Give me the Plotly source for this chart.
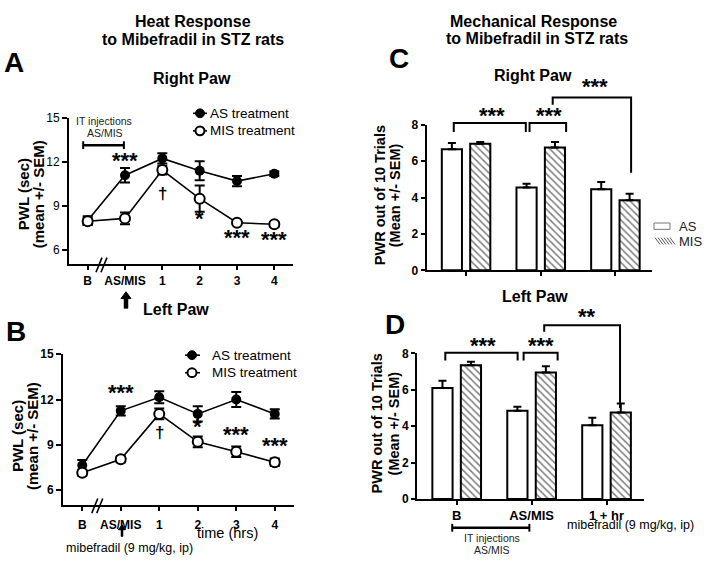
import plotly.graph_objects as go

W, H = 704, 565
FONT = "Liberation Sans, Arial, sans-serif"

# ---------------- data ----------------
time_labels = ["B", "AS/MIS", "1", "2", "3", "4"]
series_names = ["AS treatment", "MIS treatment"]
bar_names = ["AS", "MIS"]

heat_right_as = [8.0, 11.1, 12.25, 11.4, 10.7, 11.2]
heat_right_as_err = [0.3, 0.5, 0.35, 0.65, 0.35, 0.15]
heat_right_mis = [7.95, 8.15, 11.45, 9.5, 7.85, 7.75]
heat_right_mis_err = [0.25, 0.4, 0.3, 0.9, 0.15, 0.15]

heat_left_as = [7.65, 11.25, 12.15, 11.05, 12.0, 11.05]
heat_left_as_err = [0.35, 0.3, 0.4, 0.5, 0.5, 0.3]
heat_left_mis = [7.15, 8.05, 11.05, 9.2, 8.55, 7.85]
heat_left_mis_err = [0.2, 0.2, 0.35, 0.35, 0.35, 0.25]

mech_groups = ["B", "AS/MIS", "1 + hr"]
mech_right_as = [6.65, 4.55, 4.45]
mech_right_as_err = [0.35, 0.2, 0.4]
mech_right_mis = [6.95, 6.75, 3.85]
mech_right_mis_err = [0.1, 0.3, 0.35]

mech_left_as = [6.1, 4.85, 4.05]
mech_left_as_err = [0.4, 0.22, 0.42]
mech_left_mis = [7.35, 6.95, 4.75]
mech_left_mis_err = [0.2, 0.35, 0.5]

# significance marks: (text, x index, y value)
heat_right_marks = [("***", 1, 12.07), ("\u2020", 2, 9.87), ("*", 3, 8.07), ("***", 4, 6.8), ("***", 5, 6.67)]
heat_left_marks = [("***", 1, 12.37), ("\u2020", 2, 9.79), ("*", 3, 10.12), ("***", 4, 9.63), ("***", 5, 8.89)]

# brackets for bar panels: vertices in data units, star text and its position
mech_right_brackets = [
    ([(-0.165, 7.6), (-0.165, 8.09), (0.80, 8.09), (0.80, 7.6)], "***", 0.35, 8.45),
    ([(0.85, 7.6), (0.85, 8.09), (1.34, 8.09), (1.34, 7.6)], "***", 1.11, 8.45),
    ([(1.16, 9.1), (1.16, 9.5), (2.21, 9.5), (2.21, 5.36)], "***", 1.73, 10.05),
]
mech_left_brackets = [
    ([(-0.152, 7.62), (-0.152, 8.04), (0.813, 8.04), (0.813, 7.62)], "***", 0.35, 8.4),
    ([(0.893, 7.62), (0.893, 8.04), (1.347, 8.04), (1.347, 7.62)], "***", 1.13, 8.4),
    ([(1.168, 9.2), (1.168, 9.55), (2.18, 9.55), (2.18, 5.0)], "**", 1.74, 10.0),
]

# ---------------- geometry (pixels) ----------------
panels = {
    "A": dict(x0=69, x1=293, xr=(-0.5, 5.5), y0=264, y1=114, yr=(5, 15)),
    "B": dict(x0=63, x1=294, xr=(-0.5, 5.5), y0=511, y1=356, yr=(5, 15)),
    "C": dict(x0=426.5, x1=652, xr=(-0.53, 2.49), y0=270, y1=120.7, yr=(0, 8)),
    "D": dict(x0=417, x1=644, xr=(-0.53, 2.5), y0=504.5, y1=355.3, yr=(0, 8)),
}


def to_px(p, x, y):
    g = panels[p]
    px = g["x0"] + (x - g["xr"][0]) / (g["xr"][1] - g["xr"][0]) * (g["x1"] - g["x0"])
    py = g["y0"] + (y - g["yr"][0]) / (g["yr"][1] - g["yr"][0]) * (g["y1"] - g["y0"])
    return px, py


def pap(px, py):
    return px / W, 1 - py / H


fig = go.Figure()

err_style = dict(type="data", color="black", thickness=2, width=5, visible=True)


def add_line_panel(xa, ya, as_vals, as_err, mis_vals, mis_err):
    fig.add_trace(go.Scatter(
        x=time_labels, y=as_vals, mode="lines+markers", name=series_names[0],
        line=dict(color="black", width=1.6),
        marker=dict(symbol="circle", size=10, color="black"),
        error_y=dict(array=as_err, **err_style),
        xaxis=xa, yaxis=ya, showlegend=False, cliponaxis=False))
    fig.add_trace(go.Scatter(
        x=time_labels, y=mis_vals, mode="lines+markers", name=series_names[1],
        line=dict(color="black", width=1.6),
        marker=dict(symbol="circle", size=10, color="white", line=dict(color="black", width=2)),
        error_y=dict(array=mis_err, **err_style),
        xaxis=xa, yaxis=ya, showlegend=False, cliponaxis=False))


add_line_panel("x", "y", heat_right_as, heat_right_as_err, heat_right_mis, heat_right_mis_err)
add_line_panel("x2", "y2", heat_left_as, heat_left_as_err, heat_left_mis, heat_left_mis_err)

bar_err = dict(type="data", symmetric=False, color="black", thickness=2, width=4)


def add_bar_panel(xa, ya, as_vals, as_err, mis_vals, mis_err):
    fig.add_trace(go.Bar(
        x=list(range(len(mech_groups))), y=as_vals, name=bar_names[0],
        marker=dict(color="white", line=dict(color="black", width=2)),
        error_y=dict(array=as_err, arrayminus=[0] * len(as_err), **bar_err),
        xaxis=xa, yaxis=ya, showlegend=False, offsetgroup="as"))
    fig.add_trace(go.Bar(
        x=list(range(len(mech_groups))), y=mis_vals, name=bar_names[1],
        marker=dict(color="white", line=dict(color="black", width=2),
                    pattern=dict(shape="\\", fgcolor="black", bgcolor="white", size=5, solidity=0.3)),
        error_y=dict(array=mis_err, arrayminus=[0] * len(mis_err), **bar_err),
        xaxis=xa, yaxis=ya, showlegend=False, offsetgroup="mis"))


add_bar_panel("x3", "y3", mech_right_as, mech_right_as_err, mech_right_mis, mech_right_mis_err)
add_bar_panel("x4", "y4", mech_left_as, mech_left_as_err, mech_left_mis, mech_left_mis_err)


def dom(p):
    g = panels[p]
    return [g["x0"] / W, g["x1"] / W], [1 - g["y0"] / H, 1 - g["y1"] / H]


axis_common = dict(showline=True, linecolor="black", linewidth=2, ticks="outside",
                   ticklen=4, tickwidth=2, tickcolor="black", showgrid=False, zeroline=False)

layout = dict(
    width=W, height=H, margin=dict(l=0, r=0, t=0, b=0),
    paper_bgcolor="white", plot_bgcolor="white",
    font=dict(family=FONT, color="black"),
    barmode="group", bargap=0.24, bargroupgap=0.29,
    showlegend=False,
)

for i, p in enumerate(["A", "B", "C", "D"]):
    xd, yd = dom(p)
    g = panels[p]
    xs = "" if i == 0 else str(i + 1)
    xa = dict(domain=xd, range=list(g["xr"]), anchor="y" + xs, **axis_common)
    ya = dict(domain=yd, range=list(g["yr"]), anchor="x" + xs, **axis_common)
    if p in ("A", "B"):
        xa.update(type="category", tickfont=dict(size=12, family=FONT, weight="bold"),
                  ticklabelstandoff=(0 if p == "A" else 3))
        ya.update(tickvals=[6, 9, 12, 15], tickfont=dict(size=12, family=FONT,
                                                          weight="normal" if p == "A" else "bold"))
        ya.update(ticklen=5)
    else:
        xa.update(tickvals=[0, 1, 2], ticktext=(["", "", ""] if p == "C" else mech_groups),
                  tickfont=dict(size=13, family=FONT, weight="bold"), ticklabelstandoff=-1)
        ya.update(tickvals=[0, 2, 4, 6, 8], tickfont=dict(size=12, family=FONT, weight="bold"))
    layout["xaxis" + xs] = xa
    layout["yaxis" + xs] = ya

fig.update_layout(**layout)

annotations = []
shapes = []


def text_px(text, x, y, size, bold=False, angle=0, color="black", yshift=0, anchor="center"):
    px, py = pap(x, y)
    annotations.append(dict(text=text, x=px, y=py, xref="paper", yref="paper", showarrow=False,
                            xanchor=anchor, yanchor="middle", textangle=angle, yshift=yshift,
                            font=dict(size=size, family=FONT, color=color,
                                      weight="bold" if bold else "normal")))


def line_px(pts, width=2, fill=None, close=False, color="black"):
    path = "M " + " L ".join(f"{pap(x, y)[0]:.5f},{pap(x, y)[1]:.5f}" for x, y in pts)
    if close:
        path += " Z"
    shapes.append(dict(type="path", path=path, xref="paper", yref="paper",
                       line=dict(color=color, width=width),
                       fillcolor=fill if fill else "rgba(0,0,0,0)"))


def circle_px(cx, cy, r, fill, lw):
    x0, y0 = pap(cx - r, cy + r)
    x1, y1 = pap(cx + r, cy - r)
    shapes.append(dict(type="circle", xref="paper", yref="paper", x0=x0, y0=y0, x1=x1, y1=y1,
                       fillcolor=fill, line=dict(color="black", width=lw)))


# titles
text_px("Heat Response", 193, 15, 16, True)
text_px("to Mibefradil in STZ rats", 193, 33, 16, True)
text_px("Mechanical Response", 533, 15, 16, True)
text_px("to Mibefradil in STZ rats", 537, 32, 16, True)
text_px("A", 14, 57, 28, True)
text_px("B", 16, 333, 28, True)
text_px("C", 399, 53, 28, True)
text_px("D", 395, 326, 28, True)
text_px("Right Paw", 192, 73, 16, True)
text_px("Left Paw", 176, 310, 16, True)
text_px("Right Paw", 533, 70, 16, True)
text_px("Left Paw", 535, 297, 16, True)

# y axis titles
text_px("PWL (sec)", 23, 192, 15, True, -90)
text_px("(mean +/- SEM)", 38, 192, 15, True, -90)
text_px("PWL (sec)", 17, 440, 15, True, -90)
text_px("(mean +/- SEM)", 32, 440, 15, True, -90)
text_px("PWR out of 10 Trials", 380, 193, 14.5, True, -90)
text_px("(Mean +/- SEM)", 395, 193, 14.5, True, -90)
text_px("PWR out of 10 Trials", 377, 427, 14.5, True, -90)
text_px("(Mean +/- SEM)", 394, 427, 14.5, True, -90)

# other labels
text_px("time (hrs)", 227, 539, 14.5)
text_px("mibefradil (9 mg/kg, ip)", 129, 555, 12.5)
text_px("mibefradil (9 mg/kg, ip)", 630, 531, 12.5)
text_px("IT injections", 104, 117, 10.5, color="#222")
text_px("AS/MIS", 105, 129, 10.5, color="#222")
text_px("IT injections", 492, 545, 10.5, color="#222")
text_px("AS/MIS", 492, 557, 10.5, color="#222")

# legends (line panels)
for (mx, lx0, lx1, tx, rows, fsize) in [(200, 193, 207, 208, (109, 127), 13.5),
                                       (192, 185, 200, 210, (357, 375), 13.5)]:
    for name, ry, filled in zip(series_names, rows, (True, False)):
        line_px([(lx0, ry), (lx1, ry)], 1.6)
        circle_px(mx, ry, 4.5, "black" if filled else "white", 1 if filled else 2)
        text_px(name, tx, ry, fsize, anchor="left")

# legend (bar panels)
x0b, x1b = 654, 670
shapes.append(dict(type="rect", xref="paper", yref="paper",
                   x0=pap(x0b, 0)[0], x1=pap(x1b, 0)[0], y0=pap(0, 228)[1], y1=pap(0, 221.5)[1],
                   line=dict(color="#777", width=1), fillcolor="white"))
for k in range(6):
    hx = x0b + 1 + k * 3
    line_px([(hx, 236.5), (hx + 5, 243.5)], 1, color="#555")
text_px(bar_names[0], 677, 225, 13, color="#222", anchor="left")
text_px(bar_names[1], 677, 240.5, 13, color="#222", anchor="left")

# IT injection brackets
for p, xa_, xb_, ypix in [("A", -0.12, 0.97, 141.7), ("D", -0.06, 0.97, 534)]:
    xa_px = to_px(p, xa_, 0)[0]
    xb_px = to_px(p, xb_, 0)[0]
    line_px([(xa_px, ypix), (xb_px, ypix)], 2.5)
    line_px([(xa_px, ypix - 4), (xa_px, ypix + 4)], 2)
    line_px([(xb_px, ypix - 4), (xb_px, ypix + 4)], 2)

# axis breaks
for p, xb in [("A", 0.37), ("B", 0.39)]:
    bx, by = to_px(p, xb, 5)
    for dx in (-2.5, 2.5):
        line_px([(bx + dx - 3, by + 8), (bx + dx + 3, by - 7)], 1.6)

# arrows (head tip at x, y)
for x, y, hw, hh, sw, sl in [(126, 292, 5, 7, 2, 10), (122, 531, 3.5, 5, 1, 7)]:
    line_px([(x - hw, y + hh), (x, y), (x + hw, y + hh)], 1, fill="black", close=True)
    line_px([(x - sw, y + hh - 1), (x + sw, y + hh - 1), (x + sw, y + hh + sl),
             (x - sw, y + hh + sl)], 0.5, fill="black", close=True)

# significance marks on line panels
for marks, xr, yr in [(heat_right_marks, "x", "y"), (heat_left_marks, "x2", "y2")]:
    for t, xi, yv in marks:
        star = t != "\u2020"
        annotations.append(dict(text=t, x=xi, y=yv, xref=xr, yref=yr, showarrow=False,
                                xanchor="center", yanchor="middle",
                                yshift=1 if star else 0,
                                font=dict(size=22 if star else 17, family=FONT, color="black",
                                          weight="bold")))

# brackets on bar panels
for p, brs in [("C", mech_right_brackets), ("D", mech_left_brackets)]:
    for pts, t, tx, ty in brs:
        line_px([to_px(p, x, y) for x, y in pts], 2)
        sx, sy = to_px(p, tx, ty)
        text_px(t, sx, sy, 22, True, yshift=1)

fig.update_layout(annotations=annotations, shapes=shapes)
fig.write_html("out.html", config={"displayModeBar": False},
               post_script="document.body.style.margin='0px';")
